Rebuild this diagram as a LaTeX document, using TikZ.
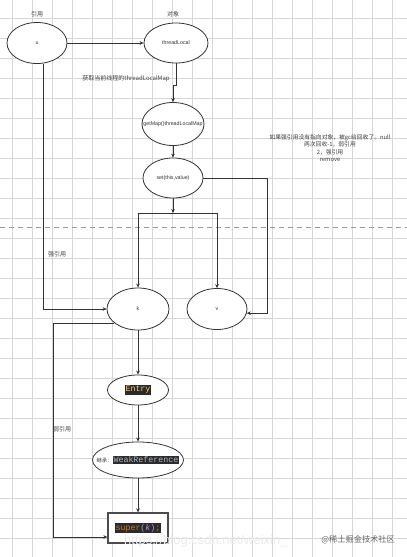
\documentclass[tikz,border=0pt]{standalone}
\usepackage{fontspec}
\setmainfont{Liberation Sans}
\setmonofont{Liberation Mono}
\newfontfamily\cjk{Noto Sans CJK SC}
\usetikzlibrary{shapes.geometric,arrows.meta}
\definecolor{gridc}{HTML}{D6D6D6}
\definecolor{codebg}{HTML}{2B2B2B}
\definecolor{codeyel}{HTML}{FFC66D}
\definecolor{codefg}{HTML}{A9B7C6}
\definecolor{codeorg}{HTML}{CC7832}
\definecolor{codepur}{HTML}{B39BD6}
\definecolor{linec}{HTML}{333333}
\begin{document}
\begin{tikzpicture}[x=1pt,y=-1pt,
  ell/.style={ellipse,draw=linec,line width=0.8pt,fill=white,inner sep=0pt},
  lbl/.style={font=\fontsize{5.3}{6}\selectfont,text=linec,inner sep=0pt},
  arr/.style={draw=linec,line width=0.7pt,-{Stealth[length=4pt,width=3.6pt]}},
  lab/.style={font=\cjk\fontsize{6}{7}\selectfont,text=black!75,inner sep=0pt},
  codef/.style={font=\ttfamily\fontsize{8.3}{9}\selectfont}
]
\useasboundingbox (0,0) rectangle (407,557);
\fill[white] (0,0) rectangle (407,557);
% grid
\foreach \i in {0,...,19} {\draw[gridc,line width=0.8pt] ({12.7+20*\i},0) -- ({12.7+20*\i},557);}
\foreach \j in {0,...,26} {\draw[gridc,line width=0.8pt] (0,{18.3+20*\j}) -- (407,{18.3+20*\j});}
% dashed separator
\draw[black!40,line width=0.7pt,dash pattern=on 5pt off 4pt] (0,227) -- (407,227);

% nodes
\node[ell,minimum width=60pt,minimum height=41pt,label={[lbl]center:u}] (u) at (37,43) {};
\node[ell,minimum width=64pt,minimum height=40pt,label={[lbl]center:threadLocal}] (tl) at (176,43) {};
\node[ell,minimum width=62pt,minimum height=43pt,label={[lbl]center:getMap()threadLocalMap}] (gm) at (173,124) {};
\node[ell,minimum width=60pt,minimum height=40pt,label={[lbl]center:set(this,value)}] (st) at (173,178) {};
\node[ell,minimum width=62pt,minimum height=42pt,label={[lbl]center:k}] (k) at (138,309) {};
\node[ell,minimum width=60pt,minimum height=41pt,label={[lbl]center:v}] (v) at (217,309) {};
\node[ell,minimum width=61pt,minimum height=30pt] (en) at (138,390) {};
\node[codef,inner sep=0pt] (ent) at (en.center) {\setlength{\fboxsep}{1pt}\colorbox{codebg}{\textcolor{codeyel}{Entry}}};
\node[ell,minimum width=91pt,minimum height=36pt] (wr) at (138,460) {};
\node[inner sep=0pt] (wrt) at (wr.center) {{\cjk\fontsize{5.3}{6}\selectfont\color{linec}继承：}\setlength{\fboxsep}{1pt}\colorbox{codebg}{\textcolor{codefg}{\ttfamily\fontsize{8.3}{9}\selectfont WeakReference}}};
\node[draw=black!70,line width=1.3pt,fill=white,minimum width=60pt,minimum height=30pt,inner sep=0pt,codef] (sup) at (138,528)
  {\setlength{\fboxsep}{1pt}\colorbox{codebg}{\textcolor{codeorg}{super}\textcolor{codepur}{(\textit{k})}\textcolor{codeorg}{;}}};

% labels
\node[lab] (l1) at (37,14) {引用};
\node[lab] (l2) at (173,14) {对象};
\node[lab] (l3) at (126,79) {获取当前线程的threadLocalMap};
\node[lab] (l4) at (57,254) {强引用};
\node[lab] (l5) at (62,429) {弱引用};
\node[lab,align=center,font=\cjk\fontsize{5.8}{7.3}\selectfont] (note) at (330,148)
  {如果强引用没有指向对象，被gc给回收了。null\\两次回收-1，弱引用\\2，强引用\\remove};

% connectors
\coordinate (j1) at (176,85);
\coordinate (j2) at (173,213);
\coordinate (c1) at (267,0);
\coordinate (w) at (53,0);
\draw[arr] (u) -- (tl);
\draw[arr] (tl.south) -- (j1) -| (gm.north);
\draw[arr] (gm) -- (st);
\draw[arr] (st.south) -- (j2);
\draw[arr] (j2) -| (k.north);
\draw[arr] (j2) -| (v.north);
\draw[arr] (st.east) -- (st.east -| c1) -- (c1 |- v.-8) -- (v.-8);
\draw[arr] ([xshift=6pt]u.south) |- (k.west);
\draw[arr] (k.211) -- (k.211 -| w) |- ([yshift=-9pt]sup.west);
\draw[arr] (k) -- (en);
\draw[arr] (en) -- (wr);
\draw[arr] (wr) -- (sup);

% watermark
\node[anchor=west,inner sep=0pt,font=\fontsize{13}{14}\selectfont,text=black!8] (wm1) at (124,541) {https://blog.csdn.net/weixin\_};
\node[anchor=east,inner sep=0pt,font=\cjk\fontsize{8.2}{9}\selectfont,text=black!60] (wm2) at (395,540) {@稀土掘金技术社区};
\end{tikzpicture}
\end{document}
